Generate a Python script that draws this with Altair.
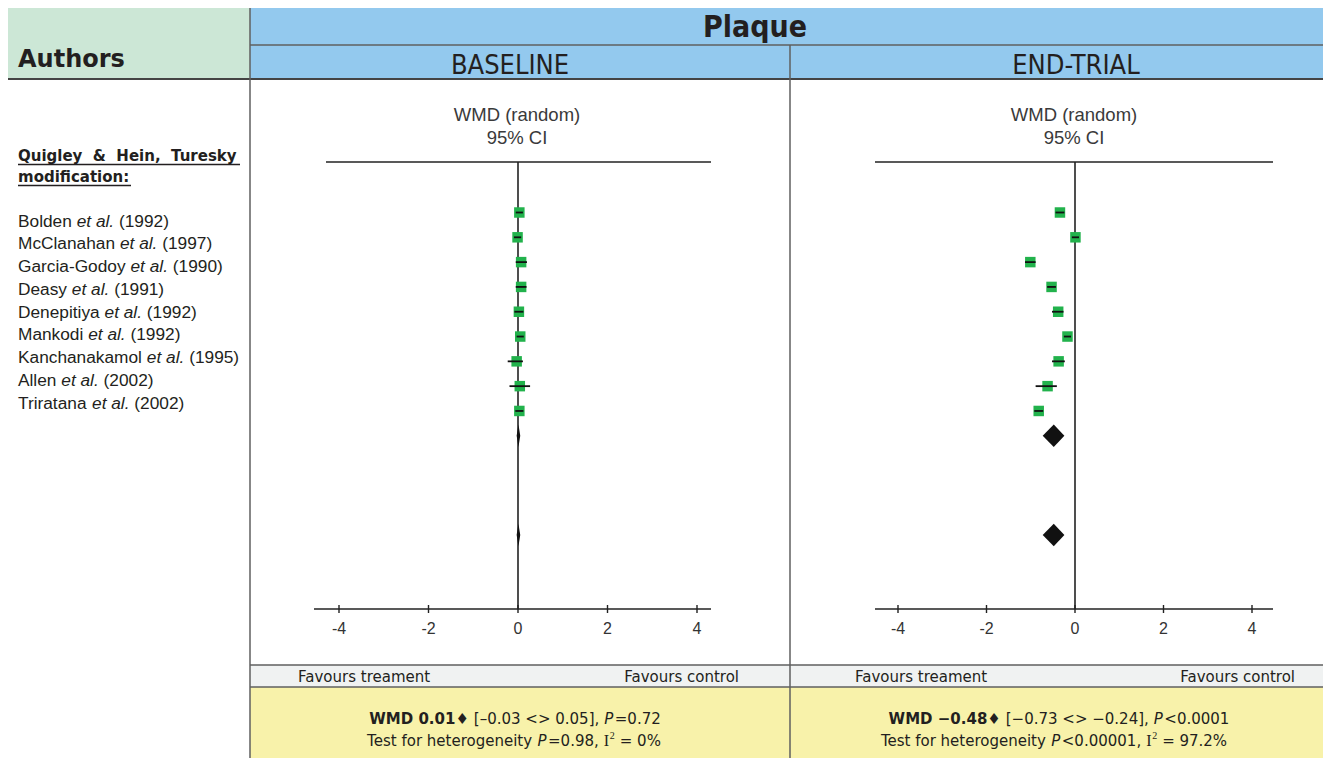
import altair as alt
import pandas as pd

# ---------------- data ----------------
authors = ["Bolden", "McClanahan", "Garcia-Godoy", "Deasy", "Denepitiya",
           "Mankodi", "Kanchanakamol", "Allen", "Triratana"]
years = ["(1992)", "(1997)", "(1990)", "(1991)", "(1992)",
         "(1992)", "(1995)", "(2002)", "(2002)"]
section_title = ["Quigley & Hein, Turesky", "modification:"]

baseline_est = [0.03, -0.01, 0.07, 0.07, 0.02, 0.05, -0.03, 0.04, 0.03]
baseline_lo = [-0.05, -0.09, -0.05, -0.05, -0.08, -0.03, -0.23, -0.19, -0.06]
baseline_hi = [0.11, 0.07, 0.20, 0.19, 0.12, 0.13, 0.11, 0.27, 0.12]

endtrial_est = [-0.34, 0.01, -1.01, -0.53, -0.38, -0.17, -0.37, -0.62, -0.82]
endtrial_lo = [-0.44, -0.07, -1.13, -0.63, -0.52, -0.25, -0.52, -0.89, -0.92]
endtrial_hi = [-0.24, 0.09, -0.89, -0.43, -0.26, -0.09, -0.23, -0.41, -0.72]

summary_rows = [10, 14]
baseline_summary = [0.01, -0.03, 0.05]   # estimate, lower, upper
endtrial_summary = [-0.48, -0.73, -0.24]
p_effect = ["=0.72", "<0.0001"]
p_heterogeneity = ["=0.98,", "<0.00001,"]
i_squared = ["0%", "97.2%"]

tick_values = [-4, -2, 0, 2, 4]
tick_labels = ["-4", "-2", "0", "2", "4"]
panel_titles = ["BASELINE", "END-TRIAL"]
main_title = "Plaque"

# ---------------- layout helpers ----------------
OX, OY = 8, 8
W, H = 1315, 750


def px(v):
    return v - OX


def py(v):
    return v - OY


one = pd.DataFrame({"k": [0]})
DARK = "#231F20"
LINE = "#5f5f5f"
GREEN = "#22B24C"
SANS = "DejaVu Sans"
ARIALF = "Liberation Sans"
SERIF = "Liberation Serif"
COND = "'DejaVu Sans Condensed', 'Liberation Sans Narrow', 'DejaVu Sans'"

layers = []


def rect(x1, y1, x2, y2, fill):
    layers.append(alt.Chart(one).mark_rect(fill=fill).encode(
        x=alt.value(px(x1)), x2=alt.value(px(x2)),
        y=alt.value(py(y1)), y2=alt.value(py(y2))))


def hline(x1, x2, y, color=LINE, w=1.5):
    layers.append(alt.Chart(one).mark_rule(color=color, strokeWidth=w).encode(
        x=alt.value(px(x1)), x2=alt.value(px(x2)), y=alt.value(py(y))))


def vline(x, y1, y2, color=LINE, w=1.5):
    layers.append(alt.Chart(one).mark_rule(color=color, strokeWidth=w).encode(
        x=alt.value(px(x)), y=alt.value(py(y1)), y2=alt.value(py(y2))))


def label(text, x, y, size, font=SANS, weight="normal", style="normal",
          align="left", color=DARK):
    layers.append(alt.Chart(one).mark_text(
        text=text, font=font, fontSize=size, fontWeight=weight,
        fontStyle=style, align=align, baseline="alphabetic", color=color
    ).encode(x=alt.value(px(x)), y=alt.value(py(y))))


# approximate font metrics (em units) for laying out mixed-style lines
DV = {' ': .318, '.': .318, ',': .318, '[': .390, ']': .390, '<': .838,
      '>': .838, '=': .838, '%': .950, '–': .5, '−': .838, '-': .361,
      'P': .603, 'T': .611, 'e': .615, 's': .521, 't': .392, 'f': .352,
      'o': .612, 'r': .411, 'h': .634, 'g': .635, 'n': .634, 'i': .278,
      'y': .592}
DVB = {' ': .348, '.': .380, ',': .380, 'W': 1.103, 'M': .995, 'D': .830,
       '−': .838, '♦': .626}
AR = {'A': .667, 'B': .667, 'C': .722, 'D': .722, 'G': .778, 'K': .667,
      'M': .833, 'T': .611, 'a': .556, 'c': .5, 'd': .556, 'e': .556,
      'h': .556, 'i': .222, 'k': .5, 'l': .222, 'm': .833, 'n': .556,
      'o': .556, 'p': .556, 'r': .333, 's': .5, 't': .278, 'y': .5,
      '-': .333, ' ': .278, '.': .278, '(': .333, ')': .333}


def width(s, size, table, digit):
    return sum(table.get(c, digit if c.isdigit() else .6) for c in s) * size


# ---------------- table background ----------------
rect(7, 7, 250, 79, "#CCE7D6")
rect(250, 7, 1323, 79, "#93C9EE")
rect(250, 665, 1323, 687, "#F0F2F2")
rect(250, 687, 1323, 766, "#F8F2AA")

hline(7, 1323, 7)
hline(250, 1323, 45)
hline(7, 1323, 79, color="#444444", w=2)
hline(250, 1323, 665)
hline(250, 1323, 687)
vline(7, 7, 766)
vline(250, 7, 766)
vline(790, 45, 766)

# ---------------- headers ----------------
label("Authors", 18, 67, 24, weight="bold")
label(main_title, 755, 37, 30, font=COND, weight="bold", align="center")
label(panel_titles[0], 510, 74, 27, font=COND, align="center")
label(panel_titles[1], 1076, 74, 27, font=COND, align="center")

# ---------------- author column ----------------
nb = " \u00a0"
label(section_title[0].replace(" ", nb), 18, 161, 15, weight="bold")
label(section_title[1], 18, 182, 15, weight="bold")
hline(18, 240, 164.5, color=DARK, w=1.3)
hline(18, 131, 185.5, color=DARK, w=1.3)

NAME_SIZE = 17.3
xn, xe, xy = [], [], []
for a in authors:
    x0 = 18
    x1 = x0 + width(a + " ", NAME_SIZE, AR, .556)
    x2 = x1 + width("et al. ", NAME_SIZE, AR, .556)
    xn.append(x0)
    xe.append(x1)
    xy.append(x2)
names_df = pd.DataFrame({"row": list(range(1, len(authors) + 1)),
                         "name": authors, "etal": ["et al."] * len(authors),
                         "year": years, "xn": xn, "xe": xe, "xy": xy})
CX = alt.Scale(domain=[OX, OX + W], range=[0, W], nice=False, zero=False)
NY = alt.Scale(domain=[1, 9], range=[py(226.7), py(408.7)], nice=False, zero=False)
for field, xf, style in [("name", "xn", "normal"), ("etal", "xe", "italic"),
                         ("year", "xy", "normal")]:
    layers.append(alt.Chart(names_df).mark_text(
        font=ARIALF, fontSize=NAME_SIZE, fontStyle=style, align="left",
        baseline="alphabetic", color=DARK
    ).encode(x=alt.X(f"{xf}:Q", scale=CX, axis=None),
             y=alt.Y("row:Q", scale=NY, axis=None),
             text=f"{field}:N"))


# ---------------- forest panels ----------------
def forest(est, lo, hi, summ, xm4, xp4, top_l, top_r, ax_l, ax_r, cx):
    xs = alt.Scale(domain=[-4, 4], range=[px(xm4), px(xp4)], nice=False, zero=False)
    ys = alt.Scale(domain=[1, 14], range=[py(212.5), py(535)], nice=False, zero=False)

    label("WMD (random)", cx, 120.5, 18.5, font=ARIALF, align="center", color="#3a3a3a")
    label("95% CI", cx, 143.5, 18.5, font=ARIALF, align="center", color="#3a3a3a")

    hline(top_l, top_r, 162, color="#222222", w=1.6)
    hline(ax_l, ax_r, 609, color="#222222", w=1.6)

    zdf = pd.DataFrame({"x": [0]})
    layers.append(alt.Chart(zdf).mark_rule(color="#222222", strokeWidth=1.6).encode(
        x=alt.X("x:Q", scale=xs, axis=None),
        y=alt.value(py(162)), y2=alt.value(py(609))))

    tdf = pd.DataFrame({"v": tick_values, "lab": tick_labels})
    layers.append(alt.Chart(tdf).mark_rule(color="#222222", strokeWidth=1.4).encode(
        x=alt.X("v:Q", scale=xs, axis=None),
        y=alt.value(py(605)), y2=alt.value(py(613))))
    layers.append(alt.Chart(tdf).mark_text(
        font=ARIALF, fontSize=16, color="#333333", align="center", baseline="alphabetic"
    ).encode(x=alt.X("v:Q", scale=xs, axis=None), y=alt.value(py(634)), text="lab:N"))

    sdf = pd.DataFrame({"row": list(range(1, len(est) + 1)), "est": est, "lo": lo, "hi": hi})
    layers.append(alt.Chart(sdf).mark_square(size=110, color=GREEN, opacity=1).encode(
        x=alt.X("est:Q", scale=xs, axis=None),
        y=alt.Y("row:Q", scale=ys, axis=None)))
    layers.append(alt.Chart(sdf).mark_rule(color="#111111", strokeWidth=1.8).encode(
        x=alt.X("lo:Q", scale=xs, axis=None), x2="hi:Q",
        y=alt.Y("row:Q", scale=ys, axis=None)))

    e, l, h = summ
    half = 0.45
    rows = []
    for r in summary_rows:
        rows += [{"id": r, "x": l, "y1": r, "y2": r},
                 {"id": r, "x": e, "y1": r - half, "y2": r + half},
                 {"id": r, "x": h, "y1": r, "y2": r}]
    ddf = pd.DataFrame(rows)
    layers.append(alt.Chart(ddf).mark_area(color="#111111", orient="vertical", opacity=1).encode(
        x=alt.X("x:Q", scale=xs, axis=None),
        y=alt.Y("y1:Q", scale=ys, axis=None, stack=None), y2="y2:Q",
        detail="id:N"))


forest(baseline_est, baseline_lo, baseline_hi, baseline_summary,
       339, 697, 326, 711, 314, 711, 517)
forest(endtrial_est, endtrial_lo, endtrial_hi, endtrial_summary,
       898, 1252, 875, 1273, 875, 1273, 1074)

# favours labels
label("Favours treament", 298, 681.5, 15)
label("Favours control", 739, 681.5, 15, align="right")
label("Favours treament", 855, 681.5, 15)
label("Favours control", 1295, 681.5, 15, align="right")


# ---------------- footer statistics ----------------
def fmt(v, minus):
    s = f"{v:.2f}"
    return s.replace("-", minus)


def mixed_line(parts, cx, yb):
    total = sum(p["w"] for p in parts)
    x = cx - total / 2
    for p in parts:
        if p.get("text"):
            layers.append(alt.Chart(one).mark_text(
                text=p["text"], font=p.get("font", SANS), fontSize=p.get("size", 15),
                fontWeight=p.get("weight", "normal"), fontStyle=p.get("style", "normal"),
                align="left", baseline="alphabetic", color=DARK
            ).encode(x=alt.value(px(x)), y=alt.value(py(yb + p.get("dy", 0)))))
        x += p["w"]


FS = 15


def gap(w):
    return {"w": w}


def seg(text, weight="normal", style="normal", font=SANS, size=FS, dy=0, w=None):
    if w is None:
        w = width(text, size, DVB if weight == "bold" else DV, .696 if weight == "bold" else .636)
    return {"text": text, "weight": weight, "style": style, "font": font,
            "size": size, "dy": dy, "w": w}


for i, (summ, minus, cx1, cx2) in enumerate([(baseline_summary, "–", 515, 514),
                                              (endtrial_summary, "−", 1059, 1054)]):
    e, l, h = summ
    bold_minus = "−"
    line1 = [seg(f"WMD {fmt(e, bold_minus)}\u2666", weight="bold"), gap(9),
             seg(f"[{fmt(l, minus)} <> {fmt(h, minus)}],"), gap(5),
             seg("P", style="italic", w=DV['P'] * FS + 1.5),
             seg(p_effect[i])]
    line2 = [seg("Test for heterogeneity"), gap(2.5),
             seg("P", style="italic", w=DV['P'] * FS + 1.5),
             seg(p_heterogeneity[i]), gap(5),
             seg("I", font=SERIF, size=16, w=6),
             seg("2", font=SERIF, size=10, dy=-7, w=6), gap(4),
             seg("= " + i_squared[i])]
    mixed_line(line1, cx1, 723.5)
    mixed_line(line2, cx2, 745.5)

chart = alt.layer(*layers).resolve_scale(
    x="independent", y="independent"
).properties(
    width=W, height=H, autosize=alt.AutoSizeParams(type="none"), padding=0,
    background="white"
).configure_view(stroke=None)

chart.save("out.html", embed_options={"renderer": "svg", "actions": False})
